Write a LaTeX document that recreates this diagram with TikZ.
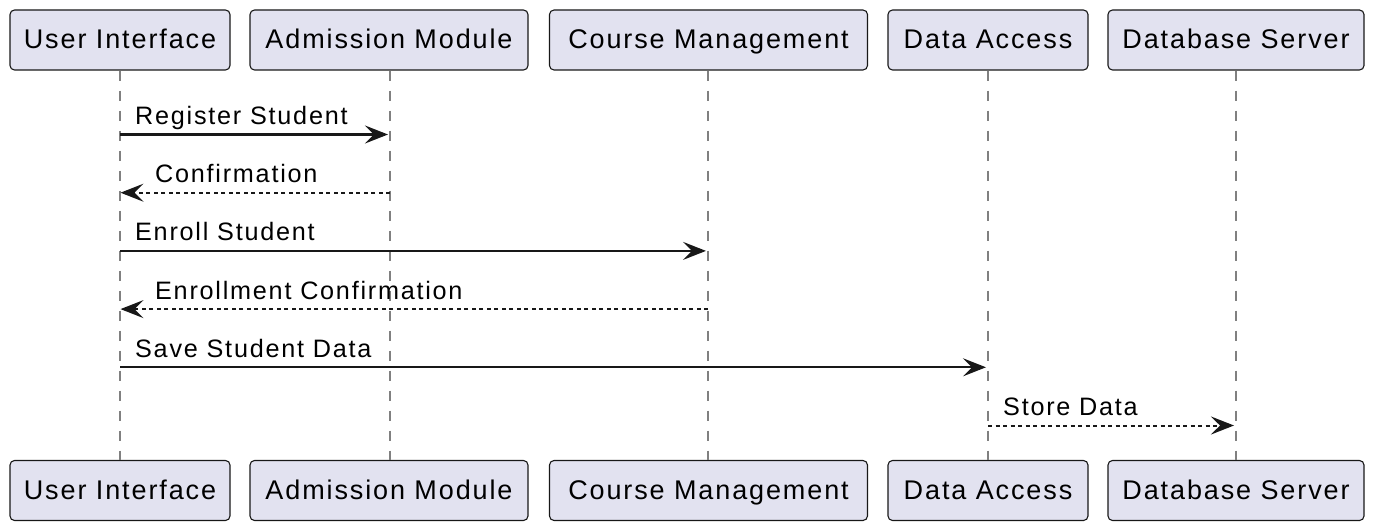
\documentclass[tikz,border=0pt]{standalone}
\usepackage{fontspec}
\setmainfont{Liberation Sans}[LetterSpace=7]
\usetikzlibrary{arrows.meta}
\definecolor{partfill}{HTML}{E2E2F0}
\definecolor{partline}{HTML}{181818}
\definecolor{lifecol}{HTML}{808080}
\definecolor{msgcol}{HTML}{181818}
\tikzset{
  participant/.style={draw=partline, fill=partfill, line width=1.1pt, rounded corners=4.5pt,
    minimum height=60pt, inner sep=0pt, text height=21pt, text depth=4pt,
    font=\fontsize{27}{32}\selectfont, text=black},
  lifeline/.style={draw=lifecol, line width=1.8pt, dash pattern=on 10pt off 10pt},
  msglabel/.style={anchor=base west, inner sep=0pt, font=\fontsize{25.2}{30}\selectfont, text=black},
  synccall/.style={draw=msgcol, line width=2.2pt, -{Stealth[length=23pt, width=18pt, inset=9pt]}, shorten >=2pt},
  replymsg/.style={draw=msgcol, line width=2pt, dash pattern=on 4pt off 3.5pt, -{Stealth[length=23pt, width=18pt, inset=9pt]}, shorten >=0.5pt},
  asyncdot/.style={draw=msgcol, line width=2pt, dash pattern=on 4pt off 3.5pt, -{Stealth[length=23pt, width=18pt, inset=9pt]}, shorten >=2pt}
}
\begin{document}
\begin{tikzpicture}[x=1pt, y=-1pt]
\useasboundingbox (0,0) rectangle (1376,532);
% lifelines first (behind boxes)
\coordinate (uiX) at (120,0);
\coordinate (amX) at (390,0);
\coordinate (cmX) at (708,0);
\coordinate (daX) at (988,0);
\coordinate (dsX) at (1236,0);
% participants top
\node[participant, minimum width=220pt] (uiT) at (120,40) {User Interface};
\node[participant, minimum width=278pt] (amT) at (389,40) {Admission Module};
\node[participant, minimum width=318pt] (cmT) at (708.5,40) {Course Management};
\node[participant, minimum width=200pt] (daT) at (988,40) {Data Access};
\node[participant, minimum width=256pt] (dsT) at (1236,40) {Database Server};
% participants bottom
\node[participant, minimum width=220pt] (uiB) at (120,490.5) {User Interface};
\node[participant, minimum width=278pt] (amB) at (389,490.5) {Admission Module};
\node[participant, minimum width=318pt] (cmB) at (708.5,490.5) {Course Management};
\node[participant, minimum width=200pt] (daB) at (988,490.5) {Data Access};
\node[participant, minimum width=256pt] (dsB) at (1236,490.5) {Database Server};
% lifelines
\draw[lifeline] (uiX |- uiT.south) -- (uiX |- uiB.north);
\draw[lifeline] (amX |- amT.south) -- (amX |- amB.north);
\draw[lifeline] (cmX |- cmT.south) -- (cmX |- cmB.north);
\draw[lifeline] (daX |- daT.south) -- (daX |- daB.north);
\draw[lifeline] (dsX |- dsT.south) -- (dsX |- dsB.north);
% message anchor coordinates
\coordinate (m1a) at (uiX |- 0,134.5);
\coordinate (m1b) at (amX |- 0,134.5);
\coordinate (m2a) at (amX |- 0,192.7);
\coordinate (m2b) at (uiX |- 0,192.7);
\coordinate (m3a) at (uiX |- 0,250.9);
\coordinate (m3b) at (cmX |- 0,250.9);
\coordinate (m4a) at (cmX |- 0,309.1);
\coordinate (m4b) at (uiX |- 0,309.1);
\coordinate (m5a) at (uiX |- 0,367.3);
\coordinate (m5b) at (daX |- 0,367.3);
\coordinate (m6a) at (daX |- 0,425.5);
\coordinate (m6b) at (dsX |- 0,425.5);
% messages
\draw[synccall] (m1a) -- (m1b);
\draw[replymsg] (m2a) -- (m2b);
\draw[synccall] (m3a) -- (m3b);
\draw[replymsg] (m4a) -- (m4b);
\draw[synccall] (m5a) -- (m5b);
\draw[asyncdot] (m6a) -- (m6b);
% labels
\node[msglabel] (l1) at ([xshift=15pt, yshift=10pt]m1a) {Register Student};
\node[msglabel] (l2) at ([xshift=35pt, yshift=10pt]m2b) {Confirmation};
\node[msglabel] (l3) at ([xshift=15pt, yshift=10pt]m3a) {Enroll Student};
\node[msglabel] (l4) at ([xshift=35pt, yshift=10pt]m4b) {Enrollment Confirmation};
\node[msglabel] (l5) at ([xshift=15pt, yshift=10pt]m5a) {Save Student Data};
\node[msglabel] (l6) at ([xshift=15pt, yshift=10pt]m6a) {Store Data};
\end{tikzpicture}
\end{document}
